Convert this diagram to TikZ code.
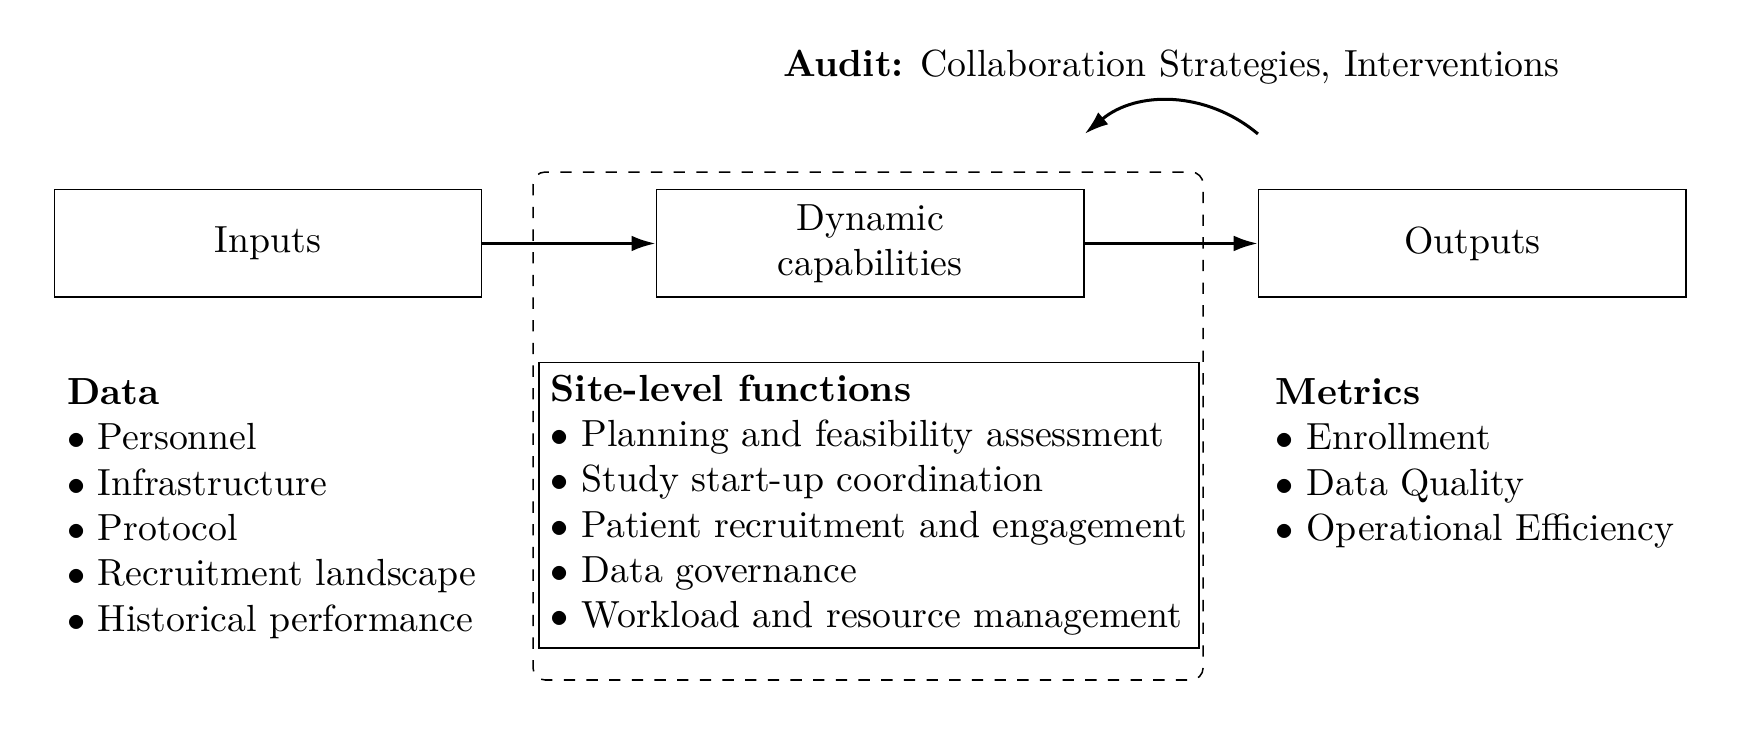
\documentclass[tikz,border=0pt]{standalone}
\usepackage{amsmath}
\usepackage{amssymb}
\usetikzlibrary{positioning,arrows.meta}

\DeclareFontFamily{TU}{lmrten}{}
\DeclareFontShape{TU}{lmrten}{m}{n}{<-> \UnicodeFontFile{lmroman10-regular}{\UnicodeFontTeXLigatures}}{}
\DeclareFontShape{TU}{lmrten}{bx}{n}{<-> \UnicodeFontFile{lmroman10-bold}{\UnicodeFontTeXLigatures}}{}
\DeclareFontShape{TU}{lmrten}{b}{n}{<->ssub * lmrten/bx/n}{}
\renewcommand{\rmdefault}{lmrten}

\begin{document}
\begin{tikzpicture}[
        font=\fontsize{12.5}{15}\selectfont,
        line width=0.5pt,
        stagebox/.style={draw, minimum width=4.97cm, minimum height=1.25cm, align=center},
        listtext/.style={align=left, inner sep=0pt},
        flow/.style={line width=1pt, -{Latex[length=8pt,width=5.2pt]}}
    ]
        \useasboundingbox (0,0) rectangle (20.21,-8.535);
        \coordinate (hubtl) at (6.198, -2.0);
        \coordinate (hubbr) at (13.99, -7.907);
        \draw[dash pattern=on 3.75pt off 3.75pt, rounded corners=4pt] (hubtl) rectangle (hubbr);
        \node[stagebox] (inputs) at (3.116, -2.831) {Inputs};
        \node[stagebox, right=2.015cm of inputs] (dyn) {Dynamic\\capabilities};
        \node[stagebox, right=2.015cm of dyn] (outputs) {Outputs};
        \draw[flow] (inputs) -- (dyn);
        \draw[flow] (dyn) -- (outputs);
        \coordinate (auditfrom) at ([yshift=0.64cm]outputs.north west);
        \coordinate (auditto) at ([yshift=0.64cm]dyn.north east);
        \draw[flow] (auditfrom) to[bend right=40] (auditto);
        \node[anchor=base] (audit) at (13.62, -0.895) {\textbf{Audit:} Collaboration Strategies, Interventions};
        \node[listtext, below right=0.93cm and 0.15cm of inputs.south west] (data) {\textbf{Data}\\
            $\bullet$ Personnel\\
            $\bullet$ Infrastructure\\
            $\bullet$ Protocol\\
            $\bullet$ Recruitment landscape\\
            $\bullet$ Historical performance};
        \node[draw, align=left, inner sep=4pt, anchor=north west] (site) at (6.256, -4.209) {\textbf{Site-level functions}\\
            $\bullet$ Planning and feasibility assessment\\
            $\bullet$ Study start-up coordination\\
            $\bullet$ Patient recruitment and engagement\\
            $\bullet$ Data governance\\
            $\bullet$ Workload and resource management};
        \node[listtext, below right=0.93cm and 0.2cm of outputs.south west] (metrics) {\textbf{Metrics}\\
            $\bullet$ Enrollment\\
            $\bullet$ Data Quality\\
            $\bullet$ Operational Efficiency};
    \end{tikzpicture}
\end{document}
